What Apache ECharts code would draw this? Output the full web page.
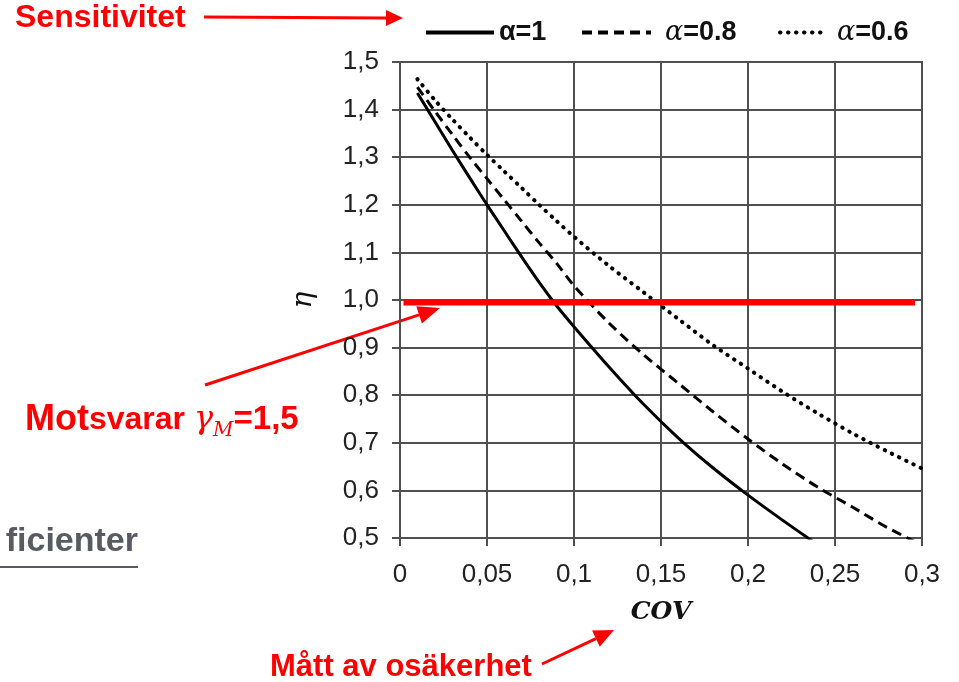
<!DOCTYPE html>
<html>
<head>
<meta charset="utf-8">
<script src="https://cdn.jsdelivr.net/npm/echarts@6/dist/echarts.min.js"></script>
<style>
html,body{margin:0;padding:0;background:#fff;}
#chart{width:959px;height:682px;}
</style>
</head>
<body>
<div id="chart"></div>
<script>
// ---- data ----
const cov = [0.01,0.02,0.03,0.04,0.05,0.06,0.07,0.08,0.09,0.10,0.12,0.14,0.16,0.18,0.20,0.22,0.24,0.26,0.28,0.30];
const etaA1  = [1.435,1.375,1.315,1.257,1.200,1.145,1.090,1.037,0.988,0.944,0.860,0.781,0.710,0.647,0.590,0.537,0.486,null,null,null];
const etaA08 = [1.447,1.397,1.348,1.300,1.255,1.210,1.165,1.120,1.077,1.030,0.952,0.885,0.825,0.765,0.708,0.655,0.607,0.565,0.522,0.485];
const etaA06 = [1.464,1.420,1.380,1.342,1.305,1.270,1.235,1.200,1.166,1.133,1.072,1.016,0.960,0.905,0.856,0.807,0.762,0.720,0.682,0.646];
const refCov = [0.002, 0.296];
const refEta = [0.995, 0.995];
const seriesNames = ['α=1','α=0.8','α=0.6'];
const xTickLabels = ['0','0,05','0,1','0,15','0,2','0,25','0,3'];
const yTickLabels = ['0,5','0,6','0,7','0,8','0,9','1,0','1,1','1,2','1,3','1,4','1,5'];

function pairs(xs, ys){ return xs.map((x,i)=>[x, ys[i]]); }

const chart = echarts.init(document.getElementById('chart'));
const gridCol = '#505050';
const red = '#ff0000';

function arrow(x1,y1,x2,y2,len,half){
  const a = Math.atan2(y2-y1, x2-x1);
  const bx = x2 - len*Math.cos(a), by = y2 - len*Math.sin(a);
  const px = -Math.sin(a)*half, py = Math.cos(a)*half;
  return [
    {type:'line', shape:{x1:x1,y1:y1,x2:bx,y2:by}, style:{stroke:red, lineWidth:3}},
    {type:'polygon', shape:{points:[[x2,y2],[bx+px,by+py],[bx-px,by-py]]}, style:{fill:red}}
  ];
}

function legendFor(name, left, width, math, pad){
  return {
    data:[name], left:left, top:14, itemWidth:width, itemHeight:14, itemGap:0,
    itemStyle:{color:'transparent', borderColor:'transparent', borderWidth:0},
    lineStyle:{width:4},
    formatter: function(n){
      if (!math) return '{t|' + n + '}';
      return '{g|α}{t|' + n.slice(1) + '}';
    },
    textStyle:{
      rich:{
        t:{fontFamily:'Liberation Sans, Arial', fontWeight:'bold', fontSize:27, color:'#111'},
        g:{fontFamily:'DejaVu Serif', fontStyle:'italic', fontSize:27, color:'#111'}
      },
      padding:[0,0,0,pad]
    }
  };
}

const option = {
  animation:false,
  backgroundColor:'#fff',
  legend: [
    legendFor('α=1', 419, 68, false, 0),
    legendFor('α=0.8', 575, 69, true, 9),
    legendFor('α=0.6', 773, 43, true, 9)
  ],
  grid:{left:400, right:37, top:62, bottom:144, show:true, borderColor:gridCol, borderWidth:2, backgroundColor:'transparent'},
  xAxis:{
    type:'value', min:0, max:0.3, interval:0.05,
    name:'COV', nameLocation:'middle', nameGap:62,
    nameTextStyle:{fontFamily:'DejaVu Serif', fontStyle:'italic', fontWeight:'bold', fontSize:25, color:'#111'},
    axisLine:{show:true, lineStyle:{color:gridCol, width:2}},
    axisTick:{show:true, length:8, lineStyle:{color:gridCol, width:2}},
    splitLine:{show:true, lineStyle:{color:gridCol, width:2}},
    axisLabel:{margin:24, fontFamily:'Liberation Sans, Arial', fontSize:26, color:'#222',
      formatter:function(v){ return xTickLabels[Math.round(v/0.05)]; }}
  },
  yAxis:{
    type:'value', min:0.5, max:1.5, interval:0.1,
    name:'η', nameLocation:'middle', nameGap:82, nameRotate:90,
    nameTextStyle:{fontFamily:'DejaVu Serif', fontStyle:'italic', fontSize:28, color:'#111'},
    axisLine:{show:true, lineStyle:{color:gridCol, width:2}},
    axisTick:{show:true, length:8, lineStyle:{color:gridCol, width:2}},
    splitLine:{show:true, lineStyle:{color:gridCol, width:2}},
    axisLabel:{margin:21, fontFamily:'Liberation Sans, Arial', fontSize:26, color:'#222',
      formatter:function(v){ return yTickLabels[Math.round((v-0.5)/0.1)]; }}
  },
  series:[
    {name:seriesNames[0], type:'line', data:pairs(cov, etaA1), smooth:0.3, symbol:'none', clip:true, z:5,
      lineStyle:{color:'#000', width:3, type:'solid'}, itemStyle:{color:'#000'}},
    {name:seriesNames[1], type:'line', data:pairs(cov, etaA08), smooth:0.3, symbol:'none', clip:true, z:5,
      lineStyle:{color:'#000', width:3, type:[10,6]}, itemStyle:{color:'#000'}},
    {name:seriesNames[2], type:'line', data:pairs(cov, etaA06), smooth:0.3, symbol:'none', clip:true, z:5,
      lineStyle:{color:'#000', width:4, type:[0.5,7.5], cap:'round'}, itemStyle:{color:'#000'}},
    {name:'ref', type:'line', data:pairs(refCov, refEta), symbol:'none', z:6,
      lineStyle:{color:red, width:6}, itemStyle:{color:red}}
  ],
  graphic:[
    {type:'text', x:15, y:18, style:{text:'Sensitivitet', font:'bold 32px "Liberation Sans", Arial', fill:red, textVerticalAlign:'middle'}},
    ...arrow(204,17,403,18,17,8),
    {type:'text', x:25, y:420, style:{
      text:'{m|Mot}{a|svarar }{g|γ}{s|M}{b|=1,5}',
      textVerticalAlign:'middle',
      rich:{
        m:{font:'bold 36px "Liberation Sans", Arial', fill:red, lineHeight:42, verticalAlign:'middle'},
        a:{font:'bold 32px "Liberation Sans", Arial', fill:red, lineHeight:42, verticalAlign:'middle'},
        b:{font:'bold 33px "Liberation Sans", Arial', fill:red, lineHeight:42, verticalAlign:'middle'},
        g:{font:'italic 32px "DejaVu Serif"', fill:red, lineHeight:42, verticalAlign:'middle'},
        s:{font:'italic 20px "DejaVu Serif"', fill:red, lineHeight:26, verticalAlign:'bottom'}
      }}},
    ...arrow(205,385,440,308,22,9),
    {type:'text', x:270, y:667, style:{text:'Mått av osäkerhet', font:'bold 31px "Liberation Sans", Arial', fill:red, textVerticalAlign:'middle'}},
    ...arrow(542,664,614,630,20,9),
    {type:'text', x:138, y:542, style:{text:'ficienter', font:'bold 34px "Liberation Sans", Arial', fill:'#5a5a62', textAlign:'right', textVerticalAlign:'middle'}},
    {type:'line', shape:{x1:0,y1:567,x2:138,y2:567}, style:{stroke:'#5a5a62', lineWidth:2}}
  ]
};
chart.setOption(option);
</script>
</body>
</html>
